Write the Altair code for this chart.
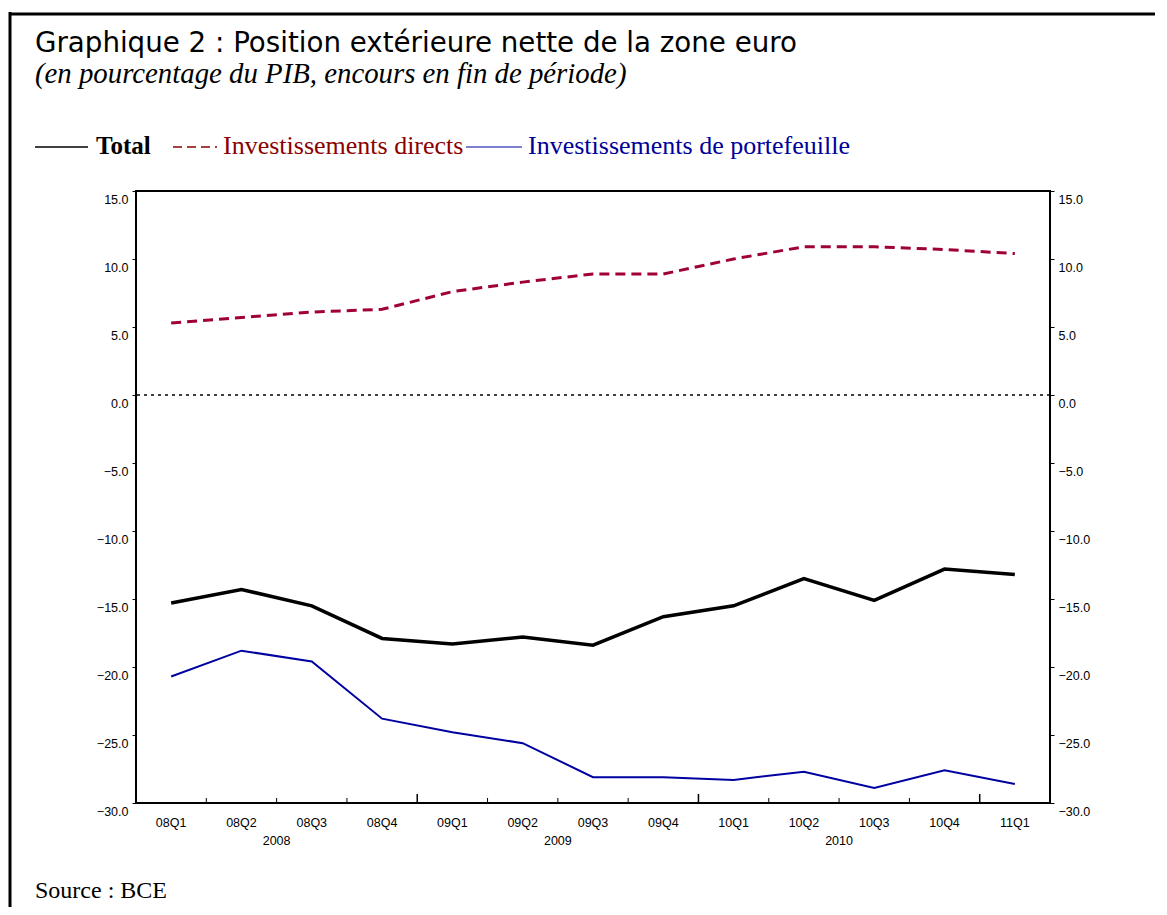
import altair as alt
import pandas as pd

# ---------------- data ----------------
quarters = ['08Q1', '08Q2', '08Q3', '08Q4', '09Q1', '09Q2', '09Q3',
            '09Q4', '10Q1', '10Q2', '10Q3', '10Q4', '11Q1']
total = [-15.3, -14.3, -15.5, -17.9, -18.3, -17.8, -18.4,
         -16.3, -15.5, -13.5, -15.1, -12.8, -13.2]
direct = [5.3, 5.7, 6.1, 6.3, 7.6, 8.3, 8.9,
          8.9, 10.0, 10.9, 10.9, 10.7, 10.4]
portfolio = [-20.7, -18.8, -19.6, -23.8, -24.8, -25.6, -28.1,
             -28.1, -28.3, -27.7, -28.9, -27.6, -28.6]
years = ['2008', '2009', '2010']
year_pos = [1.5, 5.5, 9.5]
y_ticks = [-30, -25, -20, -15, -10, -5, 0, 5, 10, 15]
minor_tick_pos = [0.5, 1.5, 2.5, 4.5, 5.5, 6.5, 8.5, 9.5, 10.5]
major_tick_pos = [3.5, 7.5, 11.5]

title_text = "Graphique 2 : Position extérieure nette de la zone euro"
subtitle_text = "(en pourcentage du PIB, encours en fin de période)"
source_text = "Source : BCE"
legend_names = ["Total", "Investissements directs", "Investissements de portefeuille"]

# ---------------- layout ----------------
W, H = 914, 612
PAD_L, PAD_T = 128, 183
OX, OY = 8 + PAD_L, 8 + PAD_T       # page position of plot origin
def px(x):
    return x - OX
def py(y):
    return y - OY

RED = "#A0003A"
RED_TXT = "#8B0000"
BLUE = "#0000A0"
BLUE_TXT = "#000099"

idx = list(range(len(quarters)))
df = pd.DataFrame({'i': idx, 'q': quarters, 'total': total,
                   'direct': direct, 'portfolio': portfolio})

xs = alt.Scale(domain=[-0.5, len(quarters) - 0.5], nice=False, zero=False)
ys = alt.Scale(domain=[-30, 15], nice=False, zero=False)
x_enc = alt.X('i:Q', scale=xs, axis=None)

def yaxis(orient):
    return alt.Axis(orient=orient, values=y_ticks, format=".1f", grid=False,
                    domain=False, tickSize=4, tickColor="black", labelPadding=4,
                    labelFont="Liberation Sans", labelFontSize=12.5,
                    labelColor="black", labelOffset=8, title=None)

base = alt.Chart(df)

total_line = base.mark_line(color="black", strokeWidth=3.5).encode(
    x=x_enc, y=alt.Y('total:Q', scale=ys, axis=yaxis("left")))
port_line = base.mark_line(color=BLUE, strokeWidth=2).encode(
    x=x_enc, y=alt.Y('portfolio:Q', scale=ys, axis=yaxis("right")))
direct_line = base.mark_line(color=RED, strokeWidth=3, strokeDash=[10, 6]).encode(
    x=x_enc, y=alt.Y('direct:Q', scale=ys, axis=None))

quarter_labels = base.mark_text(
    font="Liberation Sans", fontSize=12.5, color="black", baseline="middle").encode(
    x=x_enc, y=alt.value(py(823)), text='q:N')

zero = alt.Chart(pd.DataFrame({'z': [0]})).mark_rule(
    color="black", strokeWidth=1.3, strokeDash=[3, 4]).encode(
    y=alt.Y('z:Q', scale=ys, axis=None))

minor_ticks = alt.Chart(pd.DataFrame({'p': minor_tick_pos})).mark_rule(
    color="black", strokeWidth=1).encode(
    x=alt.X('p:Q', scale=xs, axis=None), y=alt.value(H), y2=alt.value(H - 5))
major_ticks = alt.Chart(pd.DataFrame({'p': major_tick_pos})).mark_rule(
    color="black", strokeWidth=1.5).encode(
    x=alt.X('p:Q', scale=xs, axis=None), y=alt.value(H), y2=alt.value(H - 9))

year_labels = alt.Chart(pd.DataFrame({'p': year_pos, 'y': years})).mark_text(
    font="Liberation Sans", fontSize=12.5, color="black", baseline="middle").encode(
    x=alt.X('p:Q', scale=xs, axis=None), y=alt.value(py(841)), text='y:N')

# ----- decorations (text / frame) -----
def txt(s, x, y, **kw):
    return alt.Chart(pd.DataFrame({'t': [s]})).mark_text(
        align="left", baseline="alphabetic", **kw).encode(
        x=alt.value(px(x)), y=alt.value(py(y)), text='t:N')

def seg(x1, x2, y1, y2, **kw):
    return alt.Chart(pd.DataFrame({'a': [0]})).mark_rule(**kw).encode(
        x=alt.value(px(x1)), x2=alt.value(px(x2)),
        y=alt.value(py(y1)), y2=alt.value(py(y2)))

title = txt(title_text, 35, 52, font="DejaVu Sans", fontSize=27.7, color="black")
subtitle = txt(subtitle_text, 35, 83, font="Liberation Serif", fontSize=28.8,
               fontStyle="italic", color="black")
LY, LB = 147, 154
leg1_line = seg(35, 88, LY, LY, color="black", strokeWidth=1.5)
leg1_txt = txt(legend_names[0], 96, LB, font="Liberation Serif", fontSize=25,
               fontWeight="bold", color="black")
leg2_line = seg(173, 217, LY, LY, color=RED_TXT, strokeWidth=1.5, strokeDash=[9, 5])
leg2_txt = txt(legend_names[1], 223, LB, font="Liberation Serif", fontSize=26,
               color=RED_TXT)
leg3_line = seg(466, 522, LY, LY, color=BLUE, strokeWidth=1)
leg3_txt = txt(legend_names[2], 528, LB, font="Liberation Serif", fontSize=26,
               color=BLUE_TXT)
source = txt(source_text, 35, 898, font="Liberation Serif", fontSize=24, color="black")

frame_v = seg(10, 10, 12, 910, color="black", strokeWidth=3)
frame_h = seg(9, 1160, 14, 14, color="black", strokeWidth=3)

chart = alt.layer(
    zero, minor_ticks, major_ticks, direct_line, port_line, total_line,
    quarter_labels, year_labels, title, subtitle, leg1_line, leg1_txt,
    leg2_line, leg2_txt, leg3_line, leg3_txt, source, frame_v, frame_h
).resolve_axis(y='independent').properties(
    width=W, height=H,
    autosize=alt.AutoSizeParams(type="none"),
    padding={"left": PAD_L, "top": PAD_T, "right": 105, "bottom": 104},
    background="white"
).configure_view(stroke="black", strokeWidth=2)

chart.save("out.html", embed_options={"renderer": "svg", "actions": False})
